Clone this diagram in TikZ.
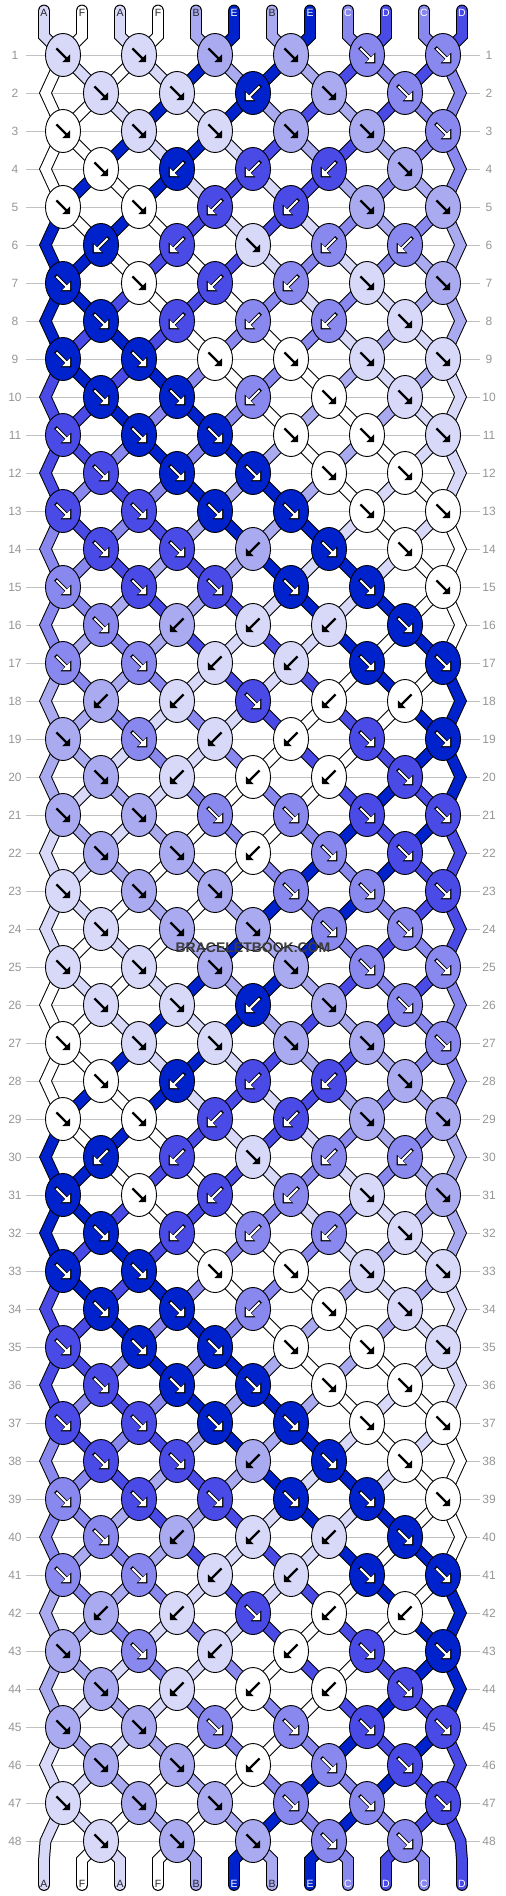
\documentclass[tikz,border=0pt]{standalone}
\usepackage{fontspec}
\setmainfont{Liberation Sans}
\usetikzlibrary{arrows.meta,shapes.geometric}
\definecolor{cA}{RGB}{216,216,248}
\definecolor{cF}{RGB}{255,255,255}
\definecolor{cB}{RGB}{170,170,240}
\definecolor{cC}{RGB}{136,136,238}
\definecolor{cD}{RGB}{74,74,230}
\definecolor{cE}{RGB}{0,34,204}
\definecolor{gridgray}{RGB}{192,192,192}
\definecolor{lblgray}{RGB}{150,150,150}
\definecolor{wmgray}{RGB}{60,60,60}
\def\darkA{0}\def\darkF{0}\def\darkB{0}\def\darkC{1}\def\darkD{1}\def\darkE{1}
\def\typetab{{1,1,1,1,1,1, 1,1,0,1,1,1, 1,1,1,1,1,1, 1,0,0,0,1,1, 1,1,0,0,1,1, 0,0,1,0,0,1, 1,1,0,0,1,1, 1,0,0,0,1,1, 1,1,1,1,1,1, 1,1,0,1,1,1, 1,1,1,1,1,1, 1,1,1,1,1,1}}
\newcommand\knotarrow[4]{%
  \ifnum#4=1
    \draw[line width=3.8pt, black, -{Triangle[length=7.6pt,width=14.6pt]}] ({#1-(#3)*7.6},{#2-7.6}) -- ({#1+(#3)*8.3},{#2+8.3});
    \draw[line width=2.1pt, white, -{Triangle[length=5.4pt,width=10.8pt]}] ({#1-(#3)*6.6},{#2-6.6}) -- ({#1+(#3)*7.0},{#2+7.0});
  \else
    \draw[line width=2.3pt, black, -{Triangle[length=5.4pt,width=10.8pt]}] ({#1-(#3)*6.6},{#2-6.6}) -- ({#1+(#3)*7.0},{#2+7.0});
  \fi}
\tikzset{
  declare function={
    spos(\kk)=ifthenelse(mod(\kk,24)<12,mod(\kk,24)+1,24-mod(\kk,24));
    sx(\qq)=44+38*(\qq-1);
    ptx(\ua,\ub)=ifthenelse(\ua==\ub,ifthenelse(\ua==1,45.5,460.5),(sx(\ua)+sx(\ub))/2);
  },
  gridline/.style={draw=gridgray, line width=0.9pt},
  rowlbl/.style={text=lblgray, font=\fontsize{12}{12}\selectfont, inner sep=0pt},
  tubeout/.style={line width=11.8pt, draw=black, line cap=round, line join=miter},
  tubein/.style={line width=9.8pt, line cap=round, line join=miter},
  knot/.style={ellipse, draw=black, line width=0.9pt, minimum width=35pt, minimum height=43pt, inner sep=0pt},
  strlbl/.style={font=\fontsize{10.5}{10.5}\selectfont, inner sep=0pt},
  wmark/.style={font=\bfseries\fontsize{14}{14}\selectfont, text=wmgray, inner sep=1pt}
}
\begin{document}
\begin{tikzpicture}[x=1pt,y=-1pt]
\path[use as bounding box, fill=white] (0,0) rectangle (506,1896);
\foreach \r in {1,...,48}{
  \pgfmathsetmacro\yy{55+38*(\r-1)}
  \draw[gridline] (26,\yy) -- (480,\yy);
  \node[rowlbl] (lab-l-\r) at (15,\yy) {\r};
  \node[rowlbl] (lab-r-\r) at (489,\yy) {\r};
}
% string outlines
\foreach \L [count=\pp] in {A,F,A,F,B,E,B,E,C,D,C,D}{
  \pgfmathtruncatemacro\kz{isodd(\pp) ? \pp-1 : 24-\pp}
  \pgfmathsetmacro\xs{sx(\pp)}
  \draw[tubeout] (\xs,10.5) -- (\xs,36)
    \foreach \r in {1,...,48}{ -- ({ptx(spos(\kz+\r-1),spos(\kz+\r))},{55+38*(\r-1)}) }
    -- (\xs,1860) -- (\xs,1885);
}
% string colours
\foreach \L [count=\pp] in {A,F,A,F,B,E,B,E,C,D,C,D}{
  \pgfmathtruncatemacro\kz{isodd(\pp) ? \pp-1 : 24-\pp}
  \pgfmathsetmacro\xs{sx(\pp)}
  \draw[tubein, draw=c\L] (\xs,10.5) -- (\xs,36)
    \foreach \r in {1,...,48}{ -- ({ptx(spos(\kz+\r-1),spos(\kz+\r))},{55+38*(\r-1)}) }
    -- (\xs,1860) -- (\xs,1885);
}
% string letters
\foreach \L [count=\pp] in {A,F,A,F,B,E,B,E,C,D,C,D}{
  \pgfmathsetmacro\xs{sx(\pp)}
  \ifnum\csname dark\L\endcsname=1 \def\lc{white}\else\def\lc{black!85}\fi
  \node[strlbl, text=\lc] (top-\pp) at (\xs,12.5) {\L};
  \node[strlbl, text=\lc] (bot-\pp) at (\xs,1884) {\L};
}
% knots
\foreach \L [count=\pp] in {A,F,A,F,B,E,B,E,C,D,C,D}{
  \pgfmathtruncatemacro\kz{isodd(\pp) ? \pp-1 : 24-\pp}
  \foreach \r in {1,...,48}{
    \pgfmathtruncatemacro\posa{spos(\kz+\r-1)}
    \pgfmathtruncatemacro\posb{spos(\kz+\r)}
    \ifnum\posa=\posb\relax\else
      \pgfmathtruncatemacro\amin{min(\posa,\posb)}
      \pgfmathtruncatemacro\kj{isodd(\r) ? (\amin+1)/2 : \amin/2}
      \pgfmathtruncatemacro\ktype{\typetab[6*mod(\r-1,12)+\kj-1]}
      \pgfmathsetmacro\kx{(sx(\posa)+sx(\posb))/2}
      \pgfmathsetmacro\ky{55+38*(\r-1)}
      \ifnum\posa<\posb
        \ifnum\ktype=1
          \node[knot, fill=c\L] (k-\r-\kj) at (\kx,\ky) {};
          \knotarrow{\kx}{\ky}{1}{\csname dark\L\endcsname}
        \fi
      \else
        \ifnum\ktype=0
          \node[knot, fill=c\L] (k-\r-\kj) at (\kx,\ky) {};
          \knotarrow{\kx}{\ky}{-1}{\csname dark\L\endcsname}
        \fi
      \fi
    \fi
  }
}
\node[wmark] (wm) at (253,947.5) {BRACELETBOOK.COM};
\end{tikzpicture}
\end{document}
